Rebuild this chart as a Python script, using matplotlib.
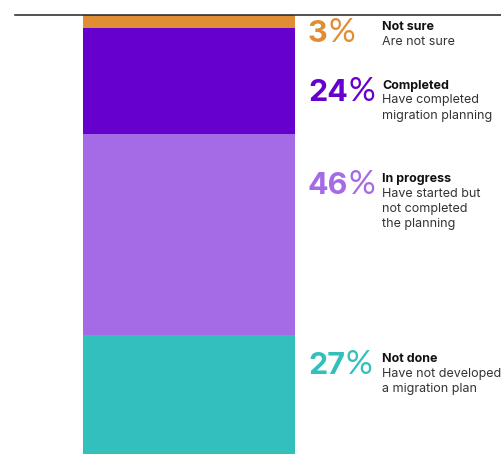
import matplotlib.pyplot as plt
from matplotlib.lines import Line2D
from matplotlib.transforms import blended_transform_factory

plt.rcParams['font.family'] = ['Inter', 'DejaVu Sans']

# segments, top to bottom
titles = ['Not sure', 'Completed', 'In progress', 'Not done']
descs = ['Are not sure',
         'Have completed\nmigration planning',
         'Have started but\nnot completed\nthe planning',
         'Have not developed\na migration plan']
values = [3, 24, 46, 27]
colors = ['#E08E35', '#6600CC', '#A56AE6', '#33C0BC']
# where each label block starts (same units as the bar, 0 = top)
label_top = [1.4, 14.8, 36.0, 77.0]

W, H = 502, 454
fig = plt.figure(figsize=(W / 100, H / 100), dpi=100)
ax = fig.add_axes([83 / W, 0, 212 / W, 1 - 15 / H])

bottom = 0
for v, c in zip(values, colors):
    ax.bar(0, v, bottom=bottom, width=1, color=c, linewidth=0)
    bottom += v
ax.set_xlim(-0.5, 0.5)
ax.set_ylim(100, 0)
ax.axis('off')

# rule along the top
fig.add_artist(Line2D([15 / W, 1], [1 - 14.5 / H, 1 - 14.5 / H],
                      transform=fig.transFigure, color='#222222', lw=1.1))

tr = blended_transform_factory(fig.transFigure, ax.transData)
for t, d, v, c, y in zip(titles, descs, values, colors, label_top):
    num = ax.text(308 / W, y - 0.3, str(v), transform=tr, color=c,
                  fontsize=22, fontweight='bold', va='top', ha='left')
    ax.annotate('%', xy=(1, 0), xycoords=num, xytext=(0.3, 0),
                textcoords='offset points', color=c, fontsize=24,
                family=['Lato', 'DejaVu Sans'], fontweight='normal',
                va='bottom', ha='left')
    ax.text(382 / W, y, t, transform=tr, color='#111111', fontsize=9,
            fontweight='bold', va='top', ha='left')
    ax.text(382 / W, y + 3.3, d, transform=tr, color='#333333', fontsize=9,
            va='top', ha='left', linespacing=1.35)

fig.savefig('out.png', dpi=100)
